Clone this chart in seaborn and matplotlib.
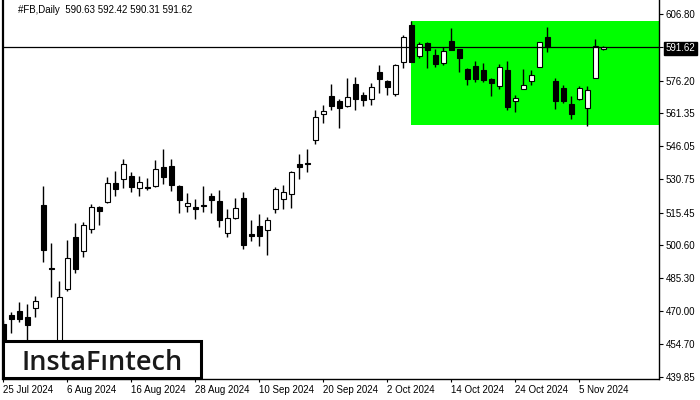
import numpy as np
import pandas as pd
import matplotlib
matplotlib.use("Agg")
import matplotlib.pyplot as plt
from matplotlib.patches import Rectangle
import seaborn as sns

# daily candles, #FB
dates = pd.bdate_range("2024-07-25", "2024-11-08", freq="C", holidays=["2024-09-02"])
opens = [464.0, 468.1, 470.0, 467.5, 471.4, 518.9, 489.8, 449.5, 480.1, 504.1,
         497.6, 507.7, 517.9, 520.2, 528.9, 530.8, 532.2, 526.6, 527.3, 527.8,
         536.5, 536.9, 527.7, 518.6, 518.2, 518.9, 523.1, 520.8, 505.9, 512.8,
         522.2, 505.6, 509.3, 507.3, 517.0, 521.6, 523.9, 537.8, 538.4, 548.8,
         560.7, 569.2, 566.9, 564.4, 574.7, 569.6, 567.6, 580.1, 575.9, 570.2,
         585.0, 601.9, 587.5, 593.6, 588.0, 584.5, 594.5, 590.8, 581.6, 583.0,
         581.1, 576.9, 573.9, 581.1, 567.0, 572.5, 576.2, 582.7, 596.3, 576.1,
         572.8, 565.3, 567.6, 563.5, 577.6, 590.63]
highs = [466.0, 469.8, 474.1, 473.2, 477.0, 527.8, 501.6, 483.9, 502.8, 510.5,
         511.3, 519.3, 518.5, 532.0, 534.6, 540.1, 534.0, 532.3, 531.2, 539.7,
         544.7, 540.1, 528.0, 524.5, 521.7, 527.7, 524.5, 525.9, 517.1, 522.0,
         524.9, 512.0, 514.8, 513.3, 527.4, 528.0, 534.6, 542.4, 544.7, 562.7,
         564.9, 574.7, 567.6, 577.5, 577.8, 570.9, 575.0, 583.4, 576.5, 583.9,
         597.3, 603.7, 593.9, 593.9, 590.8, 591.7, 600.5, 591.0, 582.0, 585.3,
         584.4, 577.3, 583.8, 585.3, 569.6, 581.5, 581.1, 594.2, 600.9, 577.3,
         574.2, 569.2, 573.6, 573.8, 595.4, 592.42]
lows = [450.5, 459.8, 465.2, 454.0, 467.5, 492.5, 476.4, 442.7, 479.5, 487.5,
        495.1, 505.9, 509.6, 519.7, 523.2, 526.9, 525.1, 523.2, 525.9, 527.4,
        528.6, 525.4, 515.3, 515.9, 512.5, 515.7, 515.3, 508.9, 504.3, 512.5,
        498.5, 502.5, 500.2, 496.0, 515.4, 517.1, 517.7, 531.1, 534.3, 546.9,
        556.6, 562.7, 554.6, 564.2, 562.7, 564.7, 565.2, 570.4, 569.8, 569.3,
        581.9, 584.7, 586.5, 582.2, 582.7, 583.3, 590.2, 580.4, 574.2, 575.7,
        575.6, 569.3, 572.5, 562.7, 561.9, 572.3, 574.2, 582.5, 589.6, 563.2,
        566.1, 558.6, 567.4, 555.5, 577.4, 590.31]
closes = [453.4, 466.3, 466.3, 463.8, 474.6, 498.1, 489.3, 476.4, 494.4, 489.3,
          509.7, 517.9, 516.3, 528.9, 526.5, 537.7, 527.4, 529.4, 527.0, 535.5,
          532.0, 528.3, 521.2, 519.9, 517.2, 518.6, 521.2, 512.2, 512.8, 517.4,
          500.7, 504.7, 504.8, 511.9, 526.2, 524.8, 534.0, 536.6, 538.0, 559.3,
          562.3, 564.7, 563.8, 568.6, 567.9, 567.3, 573.2, 576.9, 573.2, 583.4,
          596.3, 585.0, 593.0, 590.5, 584.0, 589.9, 590.5, 586.8, 577.1, 577.1,
          576.5, 575.3, 582.4, 564.2, 568.1, 574.1, 578.7, 593.9, 591.9, 567.0,
          567.0, 561.0, 572.7, 571.8, 592.1, 591.62]

price_ticks = [606.80, 591.62, 576.20, 561.35, 546.05, 530.75, 515.45,
               500.60, 485.30, 470.00, 454.70, 439.85]
last_price = 591.62
zone_start = 51          # bar where the rectangle begins
zone_top, zone_bottom = 603.8, 555.8

df = pd.DataFrame({"date": dates, "open": opens, "high": highs,
                   "low": lows, "close": closes})
df["bar"] = np.arange(len(df))
df["up"] = df["close"] >= df["open"]

sns.set_theme(style="white")
plt.rcParams["font.family"] = ["Liberation Sans", "DejaVu Sans"]

fig = plt.figure(figsize=(7, 4), dpi=100)
ax = fig.add_axes([3 / 700, 21 / 400, 656 / 700, 379 / 400])

# green zone
xmax = 81.96
ax.add_patch(Rectangle((zone_start, zone_bottom), xmax - zone_start,
                       zone_top - zone_bottom, facecolor="#00ff00",
                       edgecolor="none", zorder=1))

# wicks + bodies
ax.vlines(df["bar"], df["low"], df["high"], color="black", lw=1.0, zorder=3)
body_bot = df[["open", "close"]].min(axis=1)
body_h = (df["close"] - df["open"]).abs().clip(lower=0.3)
ax.bar(df["bar"], body_h, bottom=body_bot, width=0.6,
       color=np.where(df["up"], "white", "black"), edgecolor="black",
       linewidth=0.8, zorder=4)

ax.axhline(last_price, color="black", lw=0.9, zorder=5)

ax.set_xlim(-0.04, xmax)
ax.set_ylim(438.78, 613.39)

# axes look
ax.spines["top"].set_visible(False)
for s in ["left", "right", "bottom"]:
    ax.spines[s].set_color("black")
    ax.spines[s].set_linewidth(1.0)
ax.spines["left"].set_linewidth(1.6)

ax.yaxis.tick_right()
ax.set_yticks(price_ticks)
ax.set_yticklabels([f"{v:.2f}" for v in price_ticks])
ax.tick_params(axis="y", direction="out", length=3, width=0.8, pad=2,
               labelsize=7, colors="black", right=True, left=False)
for lab, v in zip(ax.get_yticklabels(), price_ticks):
    if v == last_price:
        lab.set_color("white")
        lab.set_bbox(dict(facecolor="black", edgecolor="black", pad=1.2))

ax.set_xticks(df["bar"][::8])
ax.set_xticklabels([f"{d.day} {d:%b %Y}" for d in df["date"][::8]], ha="left")
ax.tick_params(axis="x", direction="out", length=2, width=0.8, pad=2,
               labelsize=7, colors="black", bottom=True)
ax.grid(False)

fig.text(18 / 700, 1 - 10 / 400, "#FB,Daily  590.63 592.42 590.31 591.62",
         fontsize=7, va="center", ha="left", color="black")

# logo box
fig.add_artist(Rectangle((3 / 700, 22.5 / 400), 198 / 700, 37 / 400,
                         transform=fig.transFigure, facecolor="white",
                         edgecolor="black", linewidth=2.2, zorder=10))
fig.text(102 / 700, 30 / 400, "InstaFıntech", fontsize=19.5, ha="center",
         va="baseline", color="#1a1a1a", weight="semibold",
         family=["Open Sans", "DejaVu Sans"], zorder=11)

fig.savefig("out.png", dpi=100)
